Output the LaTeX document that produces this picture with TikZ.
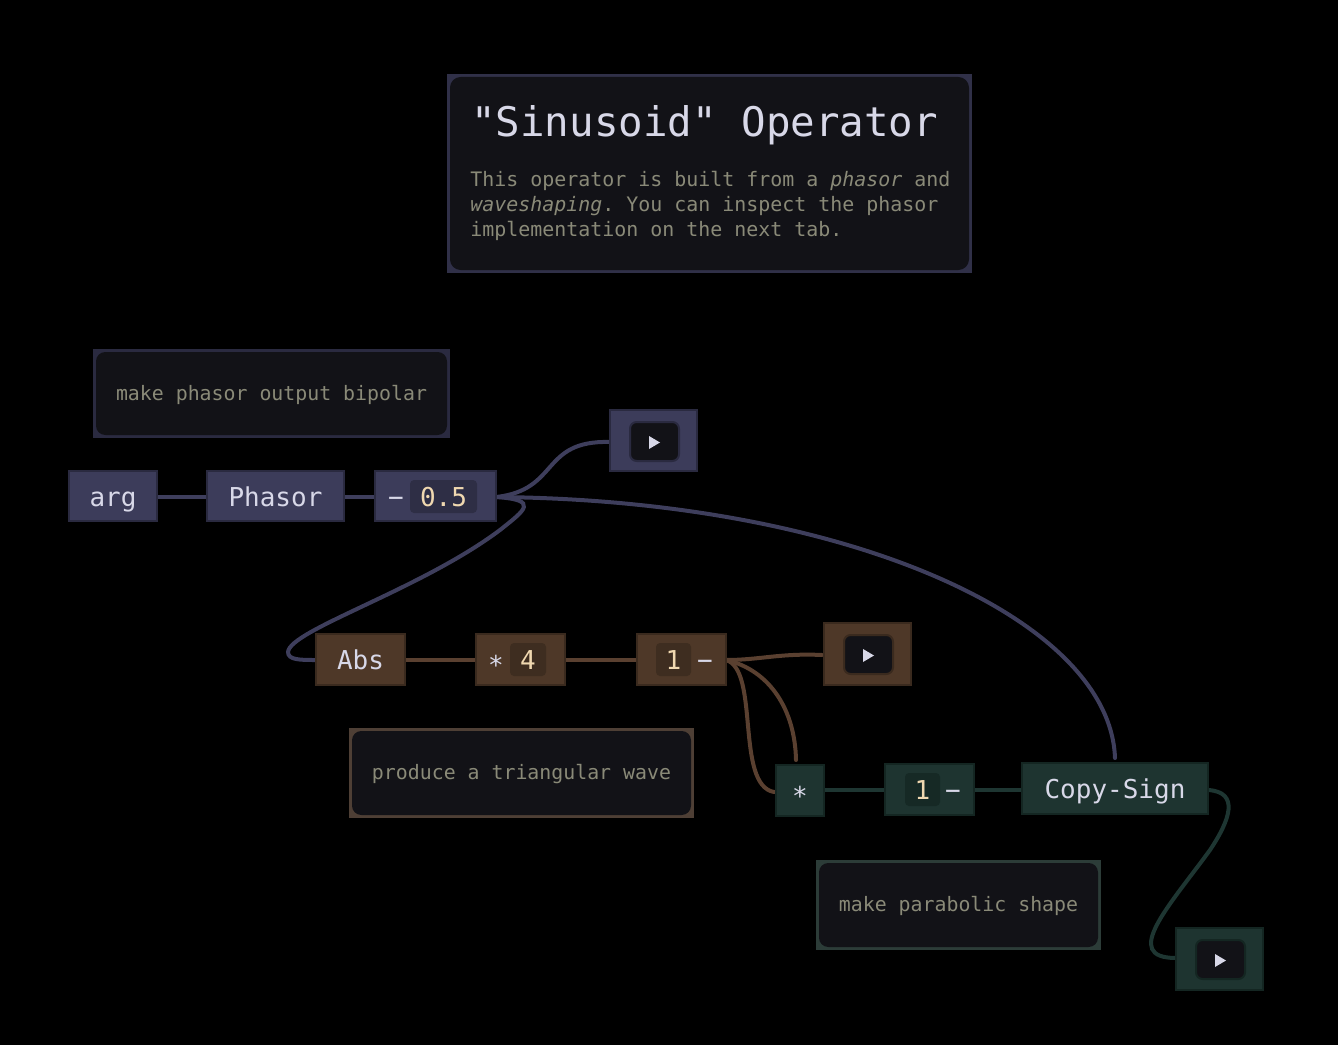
\documentclass[tikz,border=0pt]{standalone}
\usepackage{fontspec}
\setmonofont{DejaVu Sans Mono}
\usetikzlibrary{fit}
\definecolor{bg}{HTML}{000000}
\definecolor{blu}{HTML}{3C3C5A}
\definecolor{bluB}{HTML}{2A2A40}
\definecolor{brn}{HTML}{4E3828}
\definecolor{brnB}{HTML}{3A2A1E}
\definecolor{grn}{HTML}{1E3430}
\definecolor{grnB}{HTML}{142622}
\definecolor{panel}{HTML}{121217}
\definecolor{txt}{HTML}{D8D8E8}
\definecolor{dim}{HTML}{8A8A78}
\definecolor{num}{HTML}{F0D8B0}
\definecolor{wireB}{HTML}{3E3E5C}
\definecolor{wireR}{HTML}{5A4030}
\definecolor{wireG}{HTML}{1E3632}
\tikzset{
  op/.style={inner sep=0pt, draw, line width=1.5pt},
  bop/.style={op, fill=blu, draw=bluB},
  rop/.style={op, fill=brn, draw=brnB},
  gop/.style={op, fill=grn, draw=grnB},
  chip/.style={fill=#1, rounded corners=3pt},
  btn/.style={fill=panel, draw=#1, line width=1.5pt, rounded corners=5pt},
  wire/.style={line width=3pt, line cap=round},
  cmt/.style={anchor=base, font=\ttfamily\fontsize{14.9}{16}\selectfont, text=dim},
  lab/.style={anchor=base, inner sep=0pt, font=\ttfamily\fontsize{19.5}{22}\selectfont, text=#1},
}
\begin{document}
\begin{tikzpicture}[x=0.75pt,y=-0.75pt]
\fill[bg] (0,0) rectangle (1338,1045);
\useasboundingbox (0,0) rectangle (1338,1045);
% title
\fill[blu!80!black] (447,74) rectangle (972,273);
\fill[panel,rounded corners=8pt] (450,77) rectangle (969,270);
\node[anchor=base west, inner sep=0, text=txt, font=\ttfamily\fontsize{30.6}{32}\selectfont] (title) at (471,137) {"Sinusoid" Operator};
\node[anchor=base west, inner sep=0, text=dim, font=\ttfamily\fontsize{14.95}{16}\selectfont] (l1) at (470,186) {This operator is built from a \textit{phasor} and};
\node[anchor=base west, inner sep=0, text=dim, font=\ttfamily\fontsize{14.95}{16}\selectfont] (l2) at (470,211) {\textit{waveshaping}. You can inspect the phasor};
\node[anchor=base west, inner sep=0, text=dim, font=\ttfamily\fontsize{14.95}{16}\selectfont] (l3) at (470,236) {implementation on the next tab.};
% comments
\fill[bluB] (93,349) rectangle (450,438);
\fill[panel,rounded corners=7pt] (96,352) rectangle (447,435);
\node[cmt] (c1) at (271.5,400) {make phasor output bipolar};
\fill[brnB!90!white] (349,728) rectangle (694,818);
\fill[panel,rounded corners=7pt] (352,731) rectangle (691,815);
\node[cmt] (c2) at (521.5,779) {produce a triangular wave};
\fill[grnB!90!white] (816,860) rectangle (1101,950);
\fill[panel,rounded corners=7pt] (819,863) rectangle (1098,947);
\node[cmt] (c3) at (958.5,911) {make parabolic shape};
% wires (behind nodes)
\coordinate (mo) at (496,497);
\draw[wire,wireB] (157,497) -- (207,497);
\draw[wire,wireB] (344,497) -- (375,497);
\draw[wire,wireB] (mo) .. controls (560,490) and (540,440) .. (610,442);
\draw[wire,wireB] (mo) .. controls (540,500) and (525,510) .. (500,530) .. controls (420,590) and (290,630) .. (288,652) .. controls (288,660) and (300,660) .. (316,660);
\draw[wire,wireB] (mo) .. controls (850,500) and (1110,620) .. (1115,758);
\draw[wire,wireR] (405,660) -- (476,660);
\draw[wire,wireR] (565,660) -- (637,660);
\coordinate (oo) at (726,660);
\draw[wire,wireR] (oo) .. controls (760,660) and (780,653) .. (822,655);
\draw[wire,wireR] (oo) .. controls (770,670) and (795,710) .. (796,760);
\draw[wire,wireR] (oo) .. controls (760,670) and (735,785) .. (774,792);
\draw[wire,wireG] (824,790) -- (885,790);
\draw[wire,wireG] (974,790) -- (1022,790);
\draw[wire,wireG] (1208,790) .. controls (1240,792) and (1230,820) .. (1210,850) .. controls (1170,905) and (1120,958) .. (1176,958);
% nodes
\node[bop, fit={(69,471)(157,521)}] (arg) {};
\node[lab=txt] at (113,506) {arg};
\node[bop, fit={(207,471)(344,521)}] (phasor) {};
\node[lab=txt] at (275.5,506) {Phasor};
\node[bop, fit={(375,471)(496,521)}] (minus) {};
\fill[chip=bluB!80!blu] (410,480) rectangle (477,513);
\node[lab=txt] (mm) at (396,506) {−};
\node[lab=num] (mv) at (443.5,506) {0.5};
\node[bop, fit={(610,410)(697,471)}] (s1) {};
\draw[btn=bluB] (630,422) rectangle (679,461);
\fill[txt] (649,436) -- (649,449) -- (660,442.5) -- cycle;
\node[rop, fit={(316,634)(405,685)}] (abs) {};
\node[lab=txt] at (360.5,669) {Abs};
\node[rop, fit={(476,634)(565,685)}] (mul4) {};
\fill[chip=brnB!80!brn] (510,643) rectangle (546,676);
\node[lab=txt] at (496,674) {*};
\node[lab=num] at (528,669) {4};
\node[rop, fit={(637,634)(726,685)}] (om1) {};
\fill[chip=brnB!80!brn] (656,643) rectangle (691,676);
\node[lab=num] at (673.5,669) {1};
\node[lab=txt] at (705,669) {−};
\node[rop, fit={(824,623)(911,685)}] (s2) {};
\draw[btn=brnB] (844,635) rectangle (893,674);
\fill[txt] (863,649) -- (863,662) -- (874,655.5) -- cycle;
\node[gop, fit={(776,765)(824,816)}] (mul) {};
\node[lab=txt] at (800,805) {*};
\node[gop, fit={(885,764)(974,815)}] (om2) {};
\fill[chip=grnB!80!grn] (905,773) rectangle (940,806);
\node[lab=num] at (922.5,799) {1};
\node[lab=txt] at (953,799) {−};
\node[gop, fit={(1022,763)(1208,814)}] (cs) {};
\node[lab=txt] at (1115,798) {Copy-Sign};
\node[gop, fit={(1176,928)(1263,990)}] (s3) {};
\draw[btn=grnB] (1196,940) rectangle (1245,979);
\fill[txt] (1215,954) -- (1215,967) -- (1226,960.5) -- cycle;
\end{tikzpicture}
\end{document}
